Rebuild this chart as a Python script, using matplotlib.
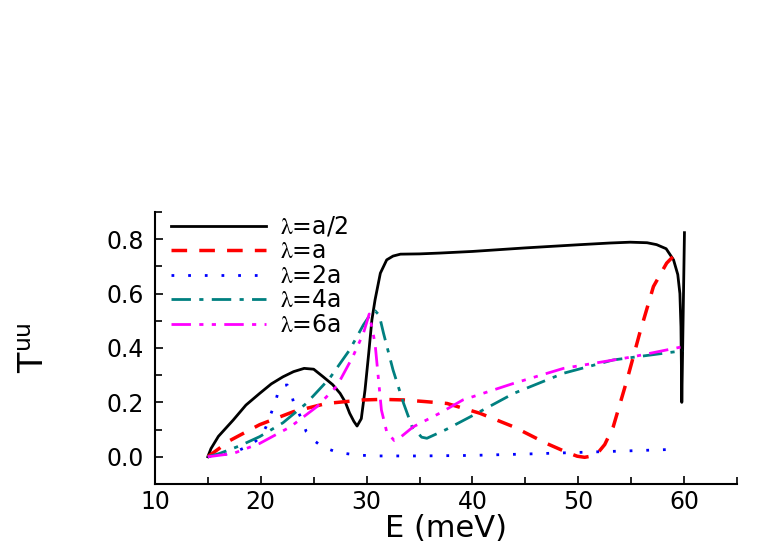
import numpy as np
import matplotlib
matplotlib.use("Agg")
import matplotlib.pyplot as plt
from matplotlib.ticker import MultipleLocator

plt.rcParams["font.family"] = "DejaVu Sans"
plt.rcParams["mathtext.fontset"] = "stix"

# lambda = a/2 (solid black)
E_half = [15.0, 15.3, 16.0, 17.4, 18.6, 19.9, 21.0, 22.1, 23.1, 24.1, 25.0,
          25.9, 26.8, 27.5, 28.0, 28.4, 28.8, 29.1, 29.5, 29.85, 30.2, 30.5,
          30.8, 31.3, 31.9, 32.5, 33.2, 35.0, 36.9, 40.0, 45.0, 50.2, 53.0,
          54.9, 56.5, 57.4, 58.3, 59.0, 59.4, 59.6, 59.7, 59.78, 59.9, 60.03]
T_half = [0.0, 0.03, 0.075, 0.135, 0.19, 0.233, 0.268, 0.294, 0.313, 0.325, 0.322,
          0.294, 0.265, 0.233, 0.2, 0.16, 0.13, 0.113, 0.14, 0.245, 0.38, 0.503,
          0.577, 0.675, 0.724, 0.738, 0.745, 0.746, 0.749, 0.755, 0.768, 0.78, 0.786,
          0.789, 0.787, 0.78, 0.765, 0.724, 0.67, 0.6, 0.478, 0.2, 0.5, 0.824]

# lambda = a (dashed red)
E_a = [15.0, 17.1, 19.9, 23.1, 26.2, 29.7, 31.5, 33.5, 35.5, 37.6, 40.7, 43.9,
       47.0, 49.0, 49.9, 50.6, 51.3, 51.8, 52.5, 53.3, 54.6, 55.8, 57.1, 58.35,
       59.0, 59.78]
T_a = [0.0, 0.06, 0.118, 0.166, 0.196, 0.209, 0.211, 0.209, 0.203, 0.196, 0.16, 0.11,
       0.049, 0.015, 0.002, -0.002, 0.003, 0.012, 0.045, 0.11, 0.282, 0.454, 0.626, 0.712,
       0.738, 0.755]

# lambda = 2a (dotted blue)
E_2a = [15.0, 16.0, 17.0, 18.0, 19.0, 19.6, 20.1, 20.5, 20.8, 21.1, 21.4, 21.6,
        22.0, 22.5, 22.9, 23.1, 23.5, 23.9, 24.3, 25.0, 25.8, 26.9, 28.0, 29.2,
        31.0, 35.0, 40.0, 45.0, 50.0, 55.0, 58.84]
T_2a = [0.0, 0.004, 0.012, 0.025, 0.042, 0.06, 0.08, 0.11, 0.142, 0.172, 0.202, 0.233,
        0.262, 0.264, 0.231, 0.2, 0.169, 0.135, 0.092, 0.061, 0.037, 0.021, 0.012, 0.006,
        0.003, 0.003, 0.005, 0.01, 0.016, 0.022, 0.027]

# lambda = 4a (dash-dot teal)
E_4a = [15.0, 16.1, 18.0, 19.9, 22.1, 24.3, 26.5, 28.4, 29.7, 30.3, 30.8, 31.2,
        31.6, 32.5, 33.5, 34.3, 35.2, 35.7, 37.5, 39.8, 43.9, 48.6, 53.3, 59.9]
T_4a = [0.0, 0.012, 0.04, 0.074, 0.125, 0.196, 0.288, 0.393, 0.485, 0.52, 0.537, 0.52,
        0.454, 0.319, 0.196, 0.11, 0.072, 0.068, 0.1, 0.147, 0.233, 0.307, 0.356, 0.39]

# lambda = 6a (dash-dot-dot magenta)
E_6a = [15.0, 17.4, 19.9, 22.8, 25.3, 27.2, 28.7, 29.7, 30.25, 30.8, 31.1, 31.4,
        31.9, 32.6, 33.3, 34.4, 36.9, 39.1, 43.9, 48.6, 55.2, 59.9]
T_6a = [0.0, 0.012, 0.049, 0.11, 0.184, 0.26, 0.368, 0.454, 0.525, 0.417, 0.294, 0.172,
        0.092, 0.06, 0.075, 0.11, 0.16, 0.209, 0.27, 0.325, 0.368, 0.405]

series = [
    (E_half, T_half, r"$\mathrm{\lambda}$=a/2", "black", "-", 2.0),
    (E_a, T_a, r"$\mathrm{\lambda}$=a", "#ff0000", (0, (4.5, 3.5)), 2.5),
    (E_2a, T_2a, r"$\mathrm{\lambda}$=2a", "#0000ff", (0, (1, 5)), 2.0),
    (E_4a, T_4a, r"$\mathrm{\lambda}$=4a", "#008080", (0, (7, 3, 1.5, 3)), 2.0),
    (E_6a, T_6a, r"$\mathrm{\lambda}$=6a", "#ff00ff", (0, (7, 3, 1.5, 3, 1.5, 3)), 2.0),
]

fig = plt.figure(figsize=(7.63, 5.45), dpi=100)
ax = fig.add_axes([0.203, 0.112, 0.763, 0.499])

for E, T, label, color, ls, lw in series:
    ax.plot(E, T, color=color, linestyle=ls, linewidth=lw, label=label)

ax.set_xlim(10, 65)
ax.set_ylim(-0.1, 0.9)
ax.xaxis.set_major_locator(MultipleLocator(10))
ax.xaxis.set_minor_locator(MultipleLocator(5))
ax.yaxis.set_major_locator(MultipleLocator(0.2))
ax.yaxis.set_minor_locator(MultipleLocator(0.1))
ax.yaxis.set_major_formatter(matplotlib.ticker.FormatStrFormatter("%.1f"))

ax.spines["top"].set_visible(False)
ax.spines["right"].set_visible(False)
ax.spines["left"].set_linewidth(1.5)
ax.spines["bottom"].set_linewidth(1.5)
ax.tick_params(which="both", direction="in", width=1.2, labelsize=17)
ax.tick_params(which="major", length=6, pad=4)
ax.tick_params(which="minor", length=5)
ax.tick_params(axis="y", which="major", pad=8)

ax.set_xlabel("E (meV)", fontsize=22, labelpad=0)
ax.set_ylabel(r"T$^{\mathregular{uu}}$", fontsize=24, labelpad=40)

ax.legend(loc="upper left", bbox_to_anchor=(0.0, 1.05), frameon=False,
          fontsize=17, handlelength=4.0, handletextpad=0.6, labelspacing=0.02,
          borderaxespad=0.3)

fig.savefig("out.png", dpi=100)
